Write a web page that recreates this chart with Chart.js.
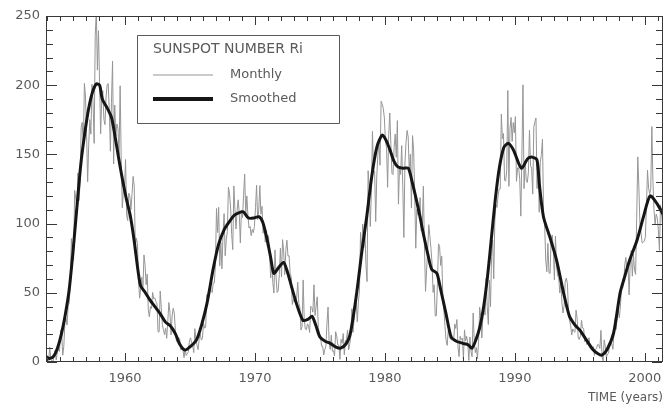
<!DOCTYPE html>
<html>
<head>
<meta charset="utf-8">
<script src="https://cdn.jsdelivr.net/npm/chart.js@4/dist/chart.umd.min.js"></script>
<style>
  html, body { margin: 0; padding: 0; background: #ffffff; }
  #wrap { width: 666px; height: 404px; }
</style>
</head>
<body>
<div id="wrap"><canvas id="ssn" width="666" height="404"></canvas></div>
<script>
// International sunspot number Ri, monthly means starting January 1954
const monthlyStartYear = 1954;
const monthlyRi = [
  // 1954
  0.2, 0.5, 10.9, 1.8, 0.8, 0.2, 4.8, 8.4, 1.5, 7.0, 9.2, 7.6,
  // 1955
  23.1, 20.8, 4.9, 11.3, 28.9, 31.7, 26.7, 40.7, 42.7, 58.5, 89.2, 76.9,
  // 1956
  73.6, 124.0, 118.4, 110.7, 136.6, 116.6, 129.1, 169.6, 173.2, 155.3, 201.3, 192.1,
  // 1957
  165.0, 130.2, 157.4, 175.2, 164.6, 200.7, 187.2, 158.0, 235.8, 253.8, 210.9, 239.4,
  // 1958
  202.5, 164.9, 190.7, 196.0, 175.3, 171.5, 191.4, 200.2, 201.2, 181.5, 152.3, 187.6,
  // 1959
  217.4, 143.1, 185.7, 163.3, 172.0, 168.7, 149.6, 199.6, 145.2, 111.4, 124.0, 125.0,
  // 1960
  146.3, 106.0, 102.2, 122.0, 119.6, 110.2, 121.7, 134.1, 127.2, 82.8, 89.6, 85.6,
  // 1961
  57.9, 46.1, 53.0, 61.4, 51.0, 77.4, 70.2, 55.9, 63.6, 37.7, 32.6, 40.0,
  // 1962
  38.7, 50.3, 45.6, 46.4, 43.7, 42.0, 21.8, 21.8, 51.3, 39.5, 26.9, 23.2,
  // 1963
  19.8, 24.4, 17.1, 29.3, 43.0, 35.9, 19.6, 33.2, 38.8, 35.3, 23.4, 14.9,
  // 1964
  15.3, 17.7, 16.5, 8.6, 9.5, 9.1, 3.1, 9.3, 4.7, 6.1, 7.4, 15.1,
  // 1965
  17.5, 14.2, 11.7, 6.8, 24.1, 15.9, 11.9, 8.9, 16.8, 20.1, 15.8, 17.0,
  // 1966
  28.2, 24.4, 25.3, 48.7, 45.3, 47.7, 56.7, 51.2, 50.2, 57.2, 57.2, 70.4,
  // 1967
  110.9, 93.6, 111.8, 69.5, 86.5, 67.3, 91.5, 107.2, 76.8, 88.2, 94.3, 126.4,
  // 1968
  121.8, 111.9, 92.2, 81.2, 127.2, 110.3, 96.1, 109.3, 117.2, 107.7, 86.0, 109.8,
  // 1969
  104.4, 120.5, 135.8, 106.8, 120.0, 106.0, 96.8, 98.0, 91.3, 95.7, 93.5, 97.9,
  // 1970
  111.5, 127.8, 102.9, 109.5, 127.5, 106.8, 112.5, 93.0, 99.5, 86.6, 95.2, 83.5,
  // 1971
  91.3, 79.0, 60.7, 71.8, 57.5, 49.8, 81.0, 61.4, 50.2, 51.7, 63.2, 82.2,
  // 1972
  61.5, 88.4, 80.1, 63.2, 80.5, 88.0, 76.5, 76.8, 64.0, 61.3, 41.6, 45.3,
  // 1973
  43.4, 42.9, 46.0, 57.7, 42.4, 39.5, 23.1, 25.6, 59.3, 30.7, 23.9, 23.3,
  // 1974
  27.6, 26.0, 21.3, 40.3, 39.5, 36.0, 55.8, 33.6, 40.2, 47.1, 25.0, 20.5,
  // 1975
  18.9, 11.5, 11.5, 5.1, 9.0, 11.4, 28.2, 39.7, 13.9, 9.1, 19.4, 7.8,
  // 1976
  8.1, 4.3, 21.9, 18.8, 12.4, 12.2, 1.9, 16.4, 13.5, 20.6, 5.2, 15.3,
  // 1977
  16.4, 23.1, 8.7, 12.9, 18.6, 38.5, 21.4, 30.1, 44.0, 43.8, 29.1, 43.2,
  // 1978
  51.9, 93.6, 76.5, 99.7, 82.7, 95.1, 70.4, 58.1, 138.2, 125.1, 97.9, 122.7,
  // 1979
  166.6, 137.5, 138.0, 101.5, 134.4, 149.5, 159.4, 142.2, 188.4, 186.2, 183.3, 176.3,
  // 1980
  159.6, 155.0, 126.2, 164.1, 179.9, 157.3, 136.3, 135.4, 155.0, 164.7, 147.9, 174.4,
  // 1981
  114.0, 141.3, 135.5, 156.4, 127.5, 90.0, 143.8, 158.7, 167.3, 162.4, 137.5, 150.1,
  // 1982
  111.2, 163.6, 153.8, 122.0, 82.2, 110.4, 106.1, 107.6, 118.8, 94.7, 98.1, 127.0,
  // 1983
  84.3, 51.0, 66.5, 80.7, 99.2, 91.1, 82.2, 71.8, 50.3, 55.8, 33.3, 33.4,
  // 1984
  57.0, 85.4, 83.5, 69.7, 76.4, 46.1, 37.4, 25.5, 15.7, 12.0, 22.8, 18.7,
  // 1985
  16.5, 15.9, 17.2, 16.2, 27.5, 24.2, 30.7, 11.1, 3.9, 18.6, 16.2, 17.3,
  // 1986
  2.5, 23.2, 15.1, 18.5, 13.7, 1.1, 18.1, 7.4, 3.8, 35.4, 15.2, 6.8,
  // 1987
  10.4, 2.4, 14.7, 39.6, 33.0, 17.4, 33.0, 38.7, 33.9, 60.6, 39.9, 27.1,
  // 1988
  59.0, 40.0, 76.2, 88.0, 60.1, 101.8, 113.8, 111.6, 120.1, 125.1, 125.1, 179.2,
  // 1989
  161.3, 165.1, 131.4, 130.6, 138.5, 196.2, 126.9, 168.9, 176.7, 159.4, 173.0, 165.5,
  // 1990
  177.3, 130.5, 140.3, 140.3, 132.2, 105.4, 149.4, 200.3, 125.2, 145.5, 131.4, 129.7,
  // 1991
  136.9, 167.5, 141.9, 140.0, 121.3, 169.7, 173.7, 176.3, 125.3, 144.1, 108.2, 144.4,
  // 1992
  150.0, 161.1, 106.7, 99.8, 73.8, 65.2, 85.7, 64.5, 63.9, 88.7, 91.8, 82.6,
  // 1993
  59.3, 91.0, 69.8, 62.2, 61.3, 49.8, 57.9, 42.4, 35.4, 40.8, 58.3, 60.6,
  // 1994
  56.9, 37.6, 29.9, 26.5, 19.5, 23.9, 22.2, 21.5, 37.5, 31.7, 17.3, 16.3,
  // 1995
  18.9, 30.1, 24.6, 24.3, 14.6, 17.1, 12.6, 15.9, 17.6, 10.0, 11.4, 9.8,
  // 1996
  11.1, 4.8, 9.0, 10.2, 12.7, 12.3, 9.8, 22.9, 3.7, 0.9, 16.0, 11.3,
  // 1997
  3.3, 5.8, 6.3, 13.1, 14.3, 13.2, 9.2, 20.7, 30.8, 23.5, 33.0, 37.0,
  // 1998
  31.9, 40.3, 54.8, 53.3, 56.8, 70.1, 75.6, 66.3, 71.3, 48.5, 70.6, 80.6,
  // 1999
  62.0, 77.9, 66.3, 63.3, 103.5, 148.2, 126.6, 99.5, 93.5, 86.0, 86.5, 87.5,
  // 2000
  90.0, 112.6, 138.6, 125.5, 121.6, 124.9, 170.1, 130.5, 109.7, 99.4, 106.8, 104.4,
  // 2001
  95.6, 80.6, 113.5, 107.7, 96.6, 134.0
];

// Smoothed sunspot number: epoch (decimal year) and value
const smoothYears = [
  1953.92, 1954.2, 1954.5, 1954.8, 1955.1, 1955.4, 1955.7, 1956.0, 1956.3, 1956.6,
  1956.9, 1957.2, 1957.5, 1957.8, 1958.05, 1958.25, 1958.6, 1958.95, 1959.2, 1959.5,
  1959.8, 1960.1, 1960.4, 1960.7, 1961.0, 1961.2, 1961.5, 1961.9, 1962.3, 1962.7,
  1963.1, 1963.5, 1963.9, 1964.2, 1964.6, 1965.0, 1965.5, 1965.9, 1966.3, 1966.8,
  1967.2, 1967.6, 1968.0, 1968.4, 1968.8, 1969.1, 1969.5, 1969.9, 1970.3, 1970.6,
  1970.9, 1971.2, 1971.45, 1971.8, 1972.2, 1972.5, 1972.8, 1973.2, 1973.7, 1974.1,
  1974.4, 1974.7, 1975.0, 1975.4, 1975.8, 1976.2, 1976.6, 1977.0, 1977.3, 1977.6,
  1977.9, 1978.2, 1978.6, 1979.0, 1979.4, 1979.8, 1980.1, 1980.4, 1980.7, 1981.0,
  1981.4, 1981.8, 1982.1, 1982.4, 1982.7, 1982.95, 1983.3, 1983.6, 1984.0, 1984.3,
  1984.7, 1985.1, 1985.5, 1986.0, 1986.4, 1986.7, 1987.0, 1987.3, 1987.6, 1987.9,
  1988.2, 1988.5, 1988.8, 1989.15, 1989.5, 1989.9, 1990.5, 1991.0, 1991.35, 1991.7,
  1991.9, 1992.2, 1992.7, 1993.2, 1993.7, 1994.2, 1994.6, 1995.0, 1995.5, 1996.0,
  1996.4, 1996.7, 1997.1, 1997.6, 1998.1, 1998.4, 1998.85, 1999.4, 1999.9, 2000.4,
  2000.9, 2001.45
];
const smoothRi = [
  4, 2.5, 4, 10, 20, 34, 52, 80, 112, 143,
  165, 183, 195, 201, 200, 190, 184, 177, 165, 148,
  132, 118, 106, 88, 66, 55, 51, 45, 40, 35,
  29, 26, 20, 13, 8.7, 11, 16, 27, 42, 68,
  85, 95, 101, 106, 108, 108.5, 104, 104, 105, 101,
  90, 76, 64, 68, 72, 65, 55, 42, 30, 31,
  33, 26, 18, 15, 13.5, 11, 10, 13, 19, 35,
  55, 78, 105, 135, 156, 164, 160, 153, 145, 141,
  140, 140, 130, 118, 105, 93, 78, 67, 64, 52,
  35, 18, 15, 13.5, 12.5, 10, 16, 25, 40, 62,
  90, 118, 140, 155, 158, 153, 140, 147, 148, 146,
  127, 105, 90, 74, 52, 33, 27, 23, 16, 9,
  6, 5, 9, 21, 50, 60, 74, 88, 105, 120,
  115, 106
];

const xTickYears = [1960, 1970, 1980, 1990, 2000];
const yTickValues = [0, 50, 100, 150, 200, 250];
const legendTitle = 'SUNSPOT NUMBER Ri';
const xAxisTitle = 'TIME (years)';

const monthlyPoints = monthlyRi.map((v, i) => ({ x: monthlyStartYear + (i + 0.5) / 12, y: v }));
const smoothPoints = smoothYears.map((t, i) => ({ x: t, y: smoothRi[i] }));

const FONT = 'DejaVu Sans';
const TEXT = '#5a5a5a';
const AXIS = '#383838';

// Boxed frame with inward ticks on all four sides, plus the legend panel
const framePlugin = {
  id: 'frame',
  afterDraw(chart) {
    const ctx = chart.ctx;
    const area = chart.chartArea;
    const xs = chart.scales.x, ys = chart.scales.y;
    const L = Math.round(area.left), R = Math.round(area.right) - 1;
    const T = Math.round(area.top), B = Math.round(area.bottom) - 1;
    ctx.save();
    ctx.fillStyle = AXIS;
    ctx.fillRect(L, T, R - L + 1, 1);
    ctx.fillRect(L, B, R - L + 1, 1);
    ctx.fillRect(L, T, 1, B - T + 1);
    ctx.fillRect(R, T, 1, B - T + 1);
    // yearly ticks, longer at decades
    for (let yr = 1954; yr <= 2001; yr++) {
      const px = Math.round(xs.getPixelForValue(yr));
      const len = yr % 10 === 0 ? 8 : 4;
      ctx.fillRect(px, B - len, 1, len);
      ctx.fillRect(px, T + 1, 1, len);
    }
    // every 10 units, longer at multiples of 50
    for (let v = 0; v <= 250; v += 10) {
      const py = Math.round(ys.getPixelForValue(v));
      const len = v % 50 === 0 ? 10 : 6;
      ctx.fillRect(L + 1, py, len, 1);
      ctx.fillRect(R - len, py, len, 1);
    }

    // legend panel
    ctx.strokeStyle = '#5a5a5a';
    ctx.lineWidth = 1;
    ctx.beginPath();
    ctx.rect(137.5, 35.5, 202, 88);
    ctx.stroke();
    ctx.fillStyle = TEXT;
    ctx.textBaseline = 'middle';
    ctx.textAlign = 'left';
    ctx.font = '14px "' + FONT + '"';
    ctx.fillText(legendTitle, 153, 49);
    ctx.font = '13px "' + FONT + '"';
    const rows = [75, 99];
    const ordered = chart.data.datasets.slice().sort((p, q) => q.order - p.order);
    ordered.forEach((ds, i) => {
      const ly = rows[i];
      ctx.strokeStyle = ds.borderColor;
      ctx.lineWidth = ds.legendWidth;
      ctx.beginPath();
      ctx.moveTo(153, ly); ctx.lineTo(213, ly);
      ctx.stroke();
      ctx.fillText(ds.label, 230, ly);
    });
    ctx.restore();
  }
};

new Chart(document.getElementById('ssn'), {
  type: 'line',
  data: {
    datasets: [
      {
        label: 'Monthly',
        data: monthlyPoints,
        borderColor: '#959595',
        borderWidth: 1,
        legendWidth: 1,
        pointRadius: 0,
        tension: 0,
        order: 1
      },
      {
        label: 'Smoothed',
        data: smoothPoints,
        borderColor: '#161616',
        borderWidth: 3,
        legendWidth: 4,
        pointRadius: 0,
        tension: 0.25,
        order: 0
      }
    ]
  },
  options: {
    responsive: false,
    animation: false,
    events: [],
    layout: { padding: { top: 16, right: 3, left: 0, bottom: 0 } },
    plugins: {
      legend: { display: false },
      tooltip: { enabled: false }
    },
    scales: {
      x: {
        type: 'linear',
        min: 1953.92,
        max: 2001.4,
        grid: { display: false, drawTicks: false },
        border: { display: false },
        afterBuildTicks: s => { s.ticks = xTickYears.map(v => ({ value: v })); },
        afterFit: s => { s.height = 42; s.paddingLeft = 0; s.paddingRight = 0; },
        ticks: {
          color: TEXT,
          font: { family: FONT, size: 13 },
          padding: 9,
          maxRotation: 0,
          autoSkip: false,
          callback: v => String(v)
        },
        title: {
          display: true,
          text: xAxisTitle,
          align: 'end',
          color: TEXT,
          font: { family: FONT, size: 12, lineHeight: 1 },
          padding: { top: 0, bottom: 0 }
        }
      },
      y: {
        min: 0,
        max: 250,
        grid: { display: false, drawTicks: false },
        border: { display: false },
        afterBuildTicks: s => { s.ticks = yTickValues.map(v => ({ value: v })); },
        afterFit: s => { s.width = 46; },
        ticks: {
          color: TEXT,
          font: { family: FONT, size: 13 },
          padding: 6,
          autoSkip: false
        }
      }
    }
  },
  plugins: [framePlugin]
});
</script>
</body>
</html>
